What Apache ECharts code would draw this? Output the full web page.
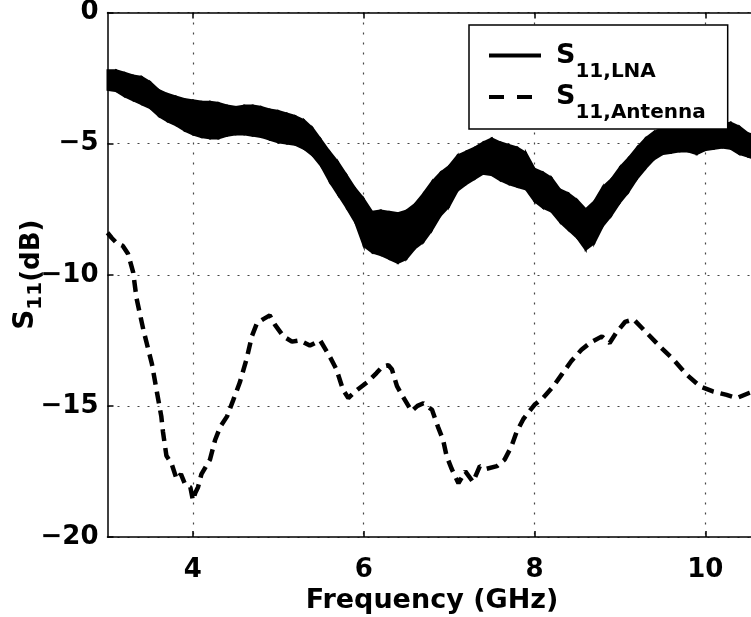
<!DOCTYPE html>
<html>
<head>
<meta charset="utf-8">
<script src="https://cdn.jsdelivr.net/npm/echarts@6/dist/echarts.min.js"></script>
<style>
  html, body { margin: 0; padding: 0; background: #fff; }
  #chart { width: 751px; height: 617px; }
</style>
</head>
<body>
<div id="chart"></div>
<script>
// S11 of the LNA: noisy trace, kept as lower / upper edge of the band (dB)
const freqLna = [3.0, 3.1, 3.2, 3.3, 3.4, 3.5, 3.6, 3.7, 3.8, 3.9,
  4.0, 4.1, 4.2, 4.3, 4.4, 4.5, 4.6, 4.7, 4.8, 4.9,
  5.0, 5.1, 5.2, 5.3, 5.4, 5.5, 5.6, 5.7, 5.8, 5.9,
  6.0, 6.1, 6.2, 6.3, 6.4, 6.5, 6.6, 6.7, 6.8, 6.9,
  7.0, 7.1, 7.2, 7.3, 7.4, 7.5, 7.6, 7.7, 7.8, 7.9,
  8.0, 8.1, 8.2, 8.3, 8.4, 8.5, 8.6, 8.7, 8.8, 8.9,
  9.0, 9.1, 9.2, 9.3, 9.4, 9.5, 9.6, 9.7, 9.8, 9.9,
  10.0, 10.1, 10.2, 10.3, 10.4, 10.5, 10.6];
const lnaHigh = [-2.2, -2.2, -2.3, -2.4, -2.45, -2.65, -2.95, -3.1, -3.2, -3.3,
  -3.35, -3.4, -3.4, -3.45, -3.55, -3.6, -3.55, -3.55, -3.6, -3.7,
  -3.75, -3.85, -3.95, -4.1, -4.4, -4.85, -5.3, -5.7, -6.2, -6.7,
  -7.1, -7.6, -7.55, -7.6, -7.65, -7.55, -7.3, -6.9, -6.45, -6.1,
  -5.85, -5.45, -5.3, -5.15, -4.95, -4.8, -4.95, -5.05, -5.15, -5.35,
  -5.95, -6.1, -6.3, -6.75, -6.9, -7.15, -7.5, -7.2, -6.65, -6.35,
  -5.9, -5.55, -5.15, -4.8, -4.55, -4.4, -4.35, -4.35, -4.35, -4.35,
  -4.4, -4.35, -4.25, -4.2, -4.35, -4.6, -4.7];
const lnaLow = [-2.95, -3.0, -3.2, -3.35, -3.5, -3.65, -3.95, -4.15, -4.3, -4.5,
  -4.65, -4.75, -4.8, -4.8, -4.7, -4.65, -4.65, -4.7, -4.75, -4.85,
  -4.95, -5.0, -5.05, -5.2, -5.45, -5.85, -6.45, -6.95, -7.45, -8.0,
  -8.9, -9.15, -9.25, -9.4, -9.55, -9.4, -9.0, -8.75, -8.3, -7.75,
  -7.4, -6.8, -6.55, -6.35, -6.15, -6.2, -6.4, -6.55, -6.65, -6.75,
  -7.2, -7.45, -7.6, -8.0, -8.3, -8.6, -9.05, -8.8, -8.15, -7.75,
  -7.25, -6.85, -6.35, -5.95, -5.6, -5.4, -5.35, -5.3, -5.3, -5.4,
  -5.25, -5.2, -5.15, -5.2, -5.4, -5.5, -5.6];

// S11 of the antenna (dB)
const freqAnt = [3.0, 3.05, 3.11, 3.18, 3.24, 3.30, 3.34, 3.42, 3.52, 3.58,
  3.63, 3.65, 3.69, 3.75, 3.81, 3.86, 3.91, 3.97, 4.0, 4.03,
  4.06, 4.10, 4.20, 4.26, 4.32, 4.40, 4.47, 4.55, 4.63, 4.69,
  4.75, 4.82, 4.90, 4.96, 5.06, 5.16, 5.25, 5.37, 5.49, 5.60,
  5.68, 5.76, 5.82, 5.92, 6.04, 6.15, 6.22, 6.29, 6.33, 6.39,
  6.46, 6.56, 6.63, 6.70, 6.80, 6.87, 6.93, 6.97, 7.03, 7.11,
  7.19, 7.28, 7.36, 7.44, 7.56, 7.65, 7.73, 7.79, 7.87, 8.00,
  8.10, 8.22, 8.32, 8.43, 8.55, 8.65, 8.79, 8.88, 8.96, 9.06,
  9.16, 9.31, 9.47, 9.63, 9.78, 9.94, 10.09, 10.25, 10.37, 10.52, 10.6];
const s11Ant = [-8.4, -8.6, -8.8, -8.9, -9.2, -9.9, -10.9, -12.1, -13.4, -14.5,
  -15.4, -16.0, -16.9, -17.2, -17.8, -17.6, -18.0, -18.1, -18.6, -18.3,
  -18.1, -17.6, -17.05, -16.3, -15.8, -15.4, -14.8, -14.1, -13.2, -12.35,
  -11.85, -11.7, -11.55, -11.9, -12.35, -12.55, -12.5, -12.7, -12.5, -13.1,
  -13.6, -14.4, -14.7, -14.4, -14.1, -13.75, -13.5, -13.45, -13.6, -14.25,
  -14.65, -15.2, -15.0, -14.9, -15.15, -15.8, -16.3, -16.9, -17.4, -17.95,
  -17.5, -17.9, -17.3, -17.4, -17.3, -17.05, -16.55, -16.0, -15.5, -14.96,
  -14.7, -14.26, -13.8, -13.3, -12.86, -12.6, -12.35, -12.6, -12.2, -11.8,
  -11.7, -12.2, -12.74, -13.24, -13.8, -14.26, -14.45, -14.58, -14.7, -14.5, -14.4];

const xTicks = [4, 6, 8, 10];
const seriesNames = ['S11,LNA', 'S11,Antenna'];

const FONT = 'DejaVu Sans';
const chart = echarts.init(document.getElementById('chart'));

const lnaBand = freqLna.map((f, i) => [f, lnaLow[i], lnaHigh[i]]);
const lnaMid = freqLna.map((f, i) => [f, (lnaLow[i] + lnaHigh[i]) / 2]);
const antData = freqAnt.map((f, i) => [f, s11Ant[i]]);

function minus(v) {
  return v < 0 ? '\u2212' + Math.abs(v) : String(v);
}

// one quad per segment between the lower and upper edge of the noisy trace
function renderBand(params, api) {
  const i = params.dataIndexInside;
  if (i >= params.dataInsideLength - 1) return null;
  const pts = [
    api.coord([api.value(0, i), api.value(2, i)]),
    api.coord([api.value(0, i + 1), api.value(2, i + 1)]),
    api.coord([api.value(0, i + 1), api.value(1, i + 1)]),
    api.coord([api.value(0, i), api.value(1, i)])
  ];
  return {
    type: 'polygon',
    shape: { points: pts },
    style: { fill: '#000', stroke: '#000', lineWidth: 2 }
  };
}

const gridDots = { type: [2, 8], color: '#444', width: 1.2 };
const tickFont = { fontFamily: FONT, fontWeight: 'bold', fontSize: 26, color: '#000' };

const option = {
  animation: false,
  backgroundColor: '#fff',
  grid: { left: 107.5, top: 12.5, right: -5.5, bottom: 80, outerBoundsMode: 'none', containLabel: false },
  xAxis: [
    {
      type: 'value', min: 3, max: 10.6, position: 'bottom',
      axisLine: { onZero: false, lineStyle: { color: '#000', width: 1.5 } },
      axisTick: { inside: true, length: 6, customValues: xTicks, lineStyle: { color: '#000', width: 1.5 } },
      axisLabel: Object.assign({ customValues: xTicks, margin: 20 }, tickFont),
      splitLine: { show: true, lineStyle: gridDots },
      name: 'Frequency (GHz)', nameLocation: 'middle', nameGap: 50, nameMoveOverlap: false,
      nameTextStyle: { fontFamily: FONT, fontWeight: 'bold', fontSize: 27, color: '#000' }
    },
    {
      type: 'value', min: 3, max: 10.6, position: 'top',
      axisLine: { onZero: false, lineStyle: { color: '#000', width: 1.5 } },
      axisTick: { inside: true, length: 6, customValues: xTicks, lineStyle: { color: '#000', width: 1.5 } },
      axisLabel: { show: false },
      splitLine: { show: false }
    }
  ],
  yAxis: {
    type: 'value', min: -20, max: 0, interval: 5,
    axisLine: { onZero: false, lineStyle: { color: '#000', width: 1.5 } },
    axisTick: { inside: true, length: 6, lineStyle: { color: '#000', width: 1.5 } },
    axisLabel: Object.assign({ margin: 9, formatter: minus }, tickFont),
    splitLine: { show: true, lineStyle: gridDots },
    name: '{s|S}{sub|11}{d|(dB)}', nameLocation: 'middle', nameGap: 62, nameRotate: 90,
    nameMoveOverlap: false,
    nameTextStyle: {
      color: '#000',
      rich: {
        s: { fontFamily: FONT, fontWeight: 'bold', fontSize: 28, lineHeight: 40, verticalAlign: 'middle' },
        sub: { fontFamily: FONT, fontWeight: 'bold', fontSize: 20, lineHeight: 14, verticalAlign: 'bottom' },
        d: { fontFamily: FONT, fontWeight: 'bold', fontSize: 26, lineHeight: 24, verticalAlign: 'bottom' }
      }
    }
  },
  legend: {
    orient: 'vertical', left: 469, top: 25, z: 10,
    backgroundColor: '#fff', borderColor: '#000', borderWidth: 1.5, borderRadius: 0,
    padding: [17, 22, 6, 18], itemGap: 2, itemWidth: 52, itemHeight: 14,
    itemStyle: { opacity: 0 },
    data: [
      { name: seriesNames[0], lineStyle: { width: 4, type: 'solid', color: '#000' } },
      { name: seriesNames[1], lineStyle: { width: 4, type: [15, 13], color: '#000' } }
    ],
    formatter: n => '{s|S}{sub|' + n.slice(1) + '}',
    textStyle: {
      color: '#000',
      rich: {
        s: { fontFamily: FONT, fontWeight: 'bold', fontSize: 27, lineHeight: 52, verticalAlign: 'middle', padding: [0, 0, 0, 10] },
        sub: { fontFamily: FONT, fontWeight: 'bold', fontSize: 20, lineHeight: 4, verticalAlign: 'bottom' }
      }
    }
  },
  series: [
    {
      name: 'lnaBand', type: 'custom', data: lnaBand, silent: true,
      encode: { x: 0, y: [1, 2] },
      renderItem: renderBand
    },
    {
      name: seriesNames[0], type: 'line', data: lnaMid,
      symbol: 'none', silent: true,
      lineStyle: { color: '#000', width: 3 },
      itemStyle: { color: '#000' }
    },
    {
      name: seriesNames[1], type: 'line', data: antData,
      symbol: 'none', silent: true,
      lineStyle: { color: '#000', width: 4.5, type: [12, 7] },
      itemStyle: { color: '#000' }
    }
  ]
};

chart.setOption(option);
</script>
</body>
</html>
